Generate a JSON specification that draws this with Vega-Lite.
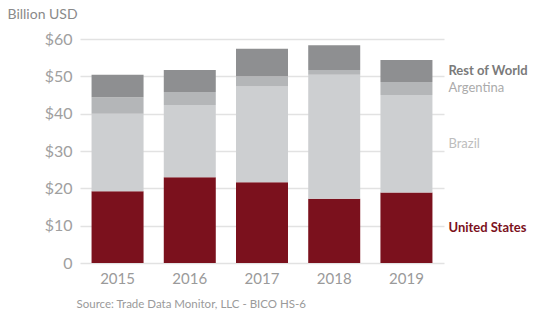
{
  "$schema": "https://vega.github.io/schema/vega-lite/v6.json",
  "width": 356,
  "height": 224,
  "autosize": {"type": "none"},
  "padding": {"left": 80, "top": 39, "right": 111, "bottom": 62},
  "background": "white",
  "config": {"font": "Lato", "view": {"stroke": null}},
  "data": {
    "values": [
      {"year": "2015", "region": "United States", "order": 1, "value": 19.2},
      {"year": "2015", "region": "Brazil", "order": 2, "value": 20.8},
      {"year": "2015", "region": "Argentina", "order": 3, "value": 4.4},
      {"year": "2015", "region": "Rest of World", "order": 4, "value": 6.0},
      {"year": "2016", "region": "United States", "order": 1, "value": 23.0},
      {"year": "2016", "region": "Brazil", "order": 2, "value": 19.3},
      {"year": "2016", "region": "Argentina", "order": 3, "value": 3.5},
      {"year": "2016", "region": "Rest of World", "order": 4, "value": 5.9},
      {"year": "2017", "region": "United States", "order": 1, "value": 21.6},
      {"year": "2017", "region": "Brazil", "order": 2, "value": 25.7},
      {"year": "2017", "region": "Argentina", "order": 3, "value": 2.7},
      {"year": "2017", "region": "Rest of World", "order": 4, "value": 7.4},
      {"year": "2018", "region": "United States", "order": 1, "value": 17.2},
      {"year": "2018", "region": "Brazil", "order": 2, "value": 33.2},
      {"year": "2018", "region": "Argentina", "order": 3, "value": 1.3},
      {"year": "2018", "region": "Rest of World", "order": 4, "value": 6.6},
      {"year": "2019", "region": "United States", "order": 1, "value": 18.9},
      {"year": "2019", "region": "Brazil", "order": 2, "value": 26.1},
      {"year": "2019", "region": "Argentina", "order": 3, "value": 3.5},
      {"year": "2019", "region": "Rest of World", "order": 4, "value": 5.9}
    ]
  },
  "layer": [
    {
      "mark": {"type": "bar"},
      "encoding": {
        "x": {
          "field": "year", "type": "ordinal",
          "scale": {"paddingInner": 0.28, "paddingOuter": 0.16, "range": [0, 364]},
          "axis": {
            "title": "Source: Trade Data Monitor, LLC - BICO HS-6",
            "titleX": -4, "titleY": 35, "titleAlign": "left", "titleBaseline": "top",
            "titleAnchor": null,
            "titleFontSize": 11.5, "titleFontWeight": "normal", "titleColor": "#9a9a9a",
            "labelAngle": 0, "labelFontSize": 15, "labelColor": "#9a9a9a", "labelPadding": 8,
            "ticks": false, "domain": false
          }
        },
        "y": {
          "field": "value", "type": "quantitative",
          "scale": {"domain": [0, 60]},
          "axis": {
            "title": "Billion USD", "titleAngle": 0, "titleAlign": "left", "titleBaseline": "top",
            "titleX": -73, "titleY": -32, "titleFontSize": 14, "titleFontWeight": "normal", "titleColor": "#8a8a8a",
            "values": [0, 10, 20, 30, 40, 50, 60],
            "labelExpr": "datum.value == 0 ? '0' : '$' + datum.value",
            "labelOverlap": false,
            "labelFontSize": 16, "labelColor": "#a0a0a0", "labelPadding": 8,
            "ticks": false, "domain": false,
            "grid": true, "gridColor": "#e2e2e2", "gridWidth": 1.5
          }
        },
        "color": {
          "field": "region", "type": "nominal",
          "scale": {
            "domain": ["United States", "Brazil", "Argentina", "Rest of World"],
            "range": ["#7b111d", "#cdcfd1", "#b4b6b8", "#8e8f91"]
          },
          "legend": null
        },
        "order": {"field": "order", "type": "quantitative"}
      }
    },
    {
      "transform": [
        {"stack": "value", "groupby": ["year"], "sort": [{"field": "order"}], "as": ["v0", "v1"]},
        {"calculate": "(datum.v0 + datum.v1) / 2", "as": "mid"},
        {"filter": "datum.year == '2019'"}
      ],
      "layer": [
        {
          "transform": [{"filter": "datum.region == 'United States' || datum.region == 'Rest of World'"}],
          "mark": {"type": "text", "align": "left", "baseline": "middle", "dx": 42, "fontSize": 13, "fontWeight": "bold"},
          "encoding": {
            "x": {"field": "year", "type": "ordinal"},
            "y": {
              "field": "mid", "type": "quantitative",
              "axis": {
                "title": "Billion USD", "titleAngle": 0, "titleAlign": "left", "titleBaseline": "top",
                "titleX": -73, "titleY": -32, "titleFontSize": 14, "titleFontWeight": "normal", "titleColor": "#8a8a8a",
                "values": [0, 10, 20, 30, 40, 50, 60],
                "labelExpr": "datum.value == 0 ? '0' : '$' + datum.value",
                "labelOverlap": false,
                "labelFontSize": 16, "labelColor": "#a0a0a0", "labelPadding": 8,
                "ticks": false, "domain": false,
                "grid": true, "gridColor": "#e2e2e2", "gridWidth": 1.5
              }
            },
            "text": {"field": "region"},
            "color": {
              "field": "region", "type": "nominal",
              "scale": {"domain": ["United States", "Rest of World"], "range": ["#7b111d", "#7a7a7a"]},
              "legend": null
            }
          }
        },
        {
          "transform": [{"filter": "datum.region == 'Brazil' || datum.region == 'Argentina'"}],
          "mark": {"type": "text", "align": "left", "baseline": "middle", "dx": 42, "fontSize": 13},
          "encoding": {
            "x": {"field": "year", "type": "ordinal"},
            "y": {
              "field": "mid", "type": "quantitative",
              "axis": {
                "title": "Billion USD", "titleAngle": 0, "titleAlign": "left", "titleBaseline": "top",
                "titleX": -73, "titleY": -32, "titleFontSize": 14, "titleFontWeight": "normal", "titleColor": "#8a8a8a",
                "values": [0, 10, 20, 30, 40, 50, 60],
                "labelExpr": "datum.value == 0 ? '0' : '$' + datum.value",
                "labelOverlap": false,
                "labelFontSize": 16, "labelColor": "#a0a0a0", "labelPadding": 8,
                "ticks": false, "domain": false,
                "grid": true, "gridColor": "#e2e2e2", "gridWidth": 1.5
              }
            },
            "text": {"field": "region"},
            "color": {
              "field": "region", "type": "nominal",
              "scale": {"domain": ["Brazil", "Argentina"], "range": ["#bdbdbd", "#ababab"]},
              "legend": null
            }
          }
        }
      ],
      "resolve": {"scale": {"color": "independent"}}
    }
  ],
  "resolve": {"scale": {"color": "independent"}}
}
